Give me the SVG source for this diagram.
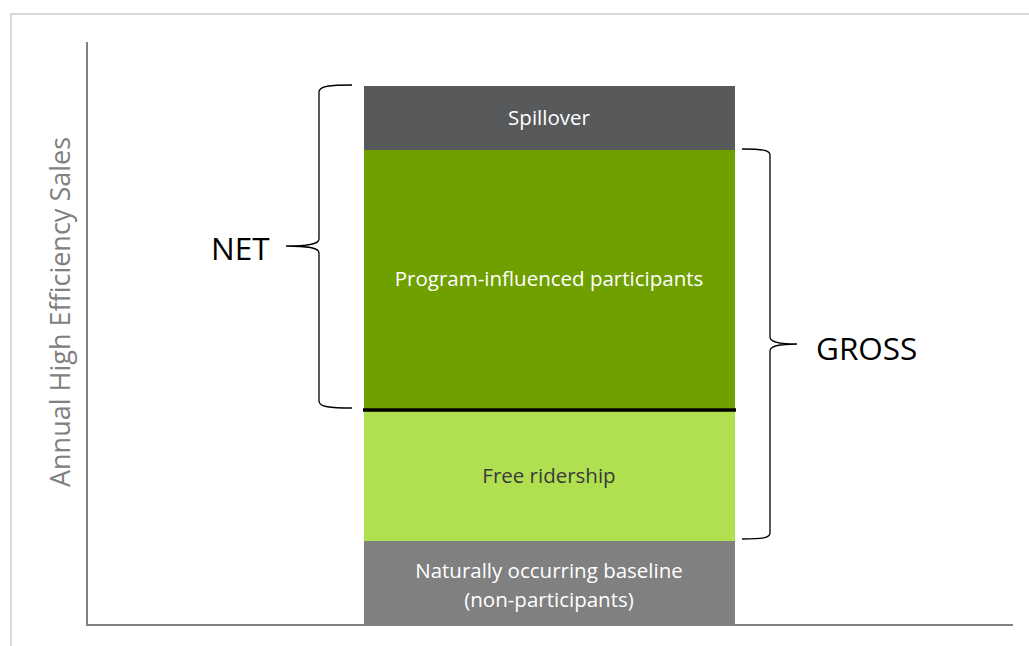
<svg xmlns="http://www.w3.org/2000/svg" width="1029" height="646" viewBox="0 0 1029 646">
<style>
.lbl{font-family:"Open Sans","Liberation Sans",sans-serif;fill:#ffffff;font-size:20.5px;text-anchor:middle}
.dark{fill:#3a3a3a}
.big{font-family:"Open Sans","Liberation Sans",sans-serif;fill:#000;font-size:31.5px}
.brace{fill:none;stroke:#000;stroke-width:1.3}
.axis{stroke:#808080;stroke-width:2;fill:none}
</style>
<rect x="0" y="0" width="1029" height="646" fill="#fff"/>
<path d="M11,646 V14 H1029" fill="none" stroke="#d9d9d9" stroke-width="2"/>
<g id="axes">
<path class="axis" d="M87,42 V625 H1013"/>
<text x="0" y="0" transform="translate(70,312) rotate(-90)" font-family="Open Sans, Liberation Sans, sans-serif" font-size="27" fill="#808080" text-anchor="middle">Annual High Efficiency Sales</text>
</g>
<g id="spillover">
<rect x="364" y="86" width="371" height="64" fill="#58595b"/>
<text class="lbl" x="549" y="125">Spillover</text>
</g>
<g id="program">
<rect x="364" y="150" width="371" height="260" fill="#70a000"/>
<text class="lbl" x="549" y="286">Program-influenced participants</text>
</g>
<g id="freeridership">
<rect x="364" y="410" width="371" height="131" fill="#b0e050"/>
<text class="lbl dark" x="549" y="483">Free ridership</text>
</g>
<g id="baseline">
<rect x="364" y="541" width="371" height="84" fill="#808080"/>
<text class="lbl" x="549" y="578">Naturally occurring baseline</text>
<text class="lbl" x="549" y="607">(non-participants)</text>
</g>
<g id="connectors">
<line x1="363" y1="410" x2="736" y2="410" stroke="#000" stroke-width="3.5"/>
<path class="brace" d="M352,85 C330,85 319,86 319,92 V239 C319,244 310,246 286,246 C310,246 319,248 319,253 V401 C319,407 330,408 352,408"/>
<path class="brace" d="M742,149 C762,149 770,150 770,155 V337 C770,342 778,344 797,344 C778,344 770,346 770,351 V533 C770,538 762,539 742,539"/>
</g>
<g id="net">
<text class="big" x="211" y="260">NET</text>
</g>
<g id="gross">
<text class="big" x="816" y="360">GROSS</text>
</g>
</svg>
